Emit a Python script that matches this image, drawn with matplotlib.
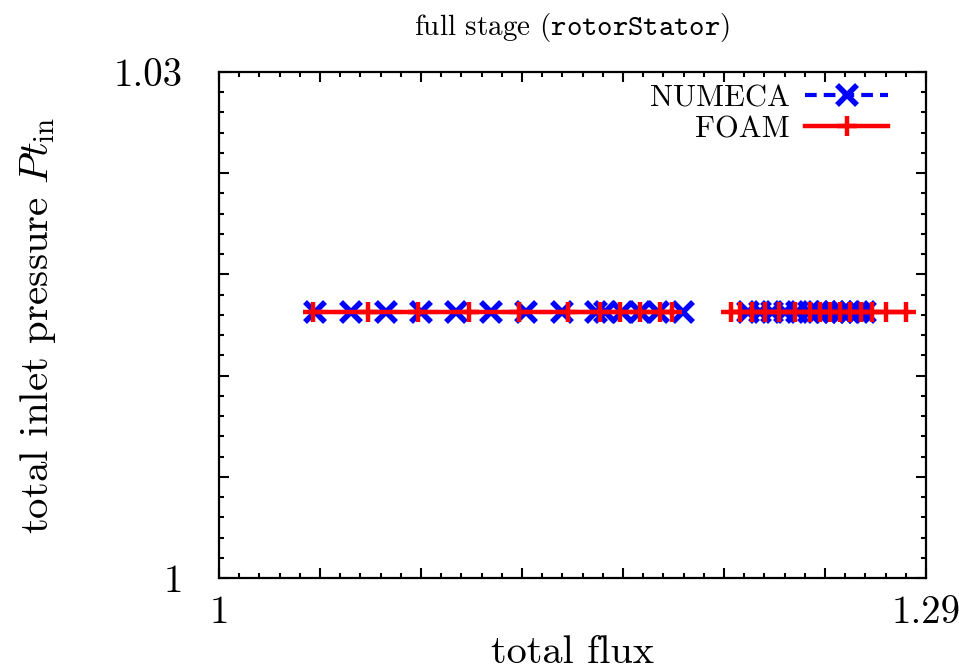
import numpy as np
import matplotlib
matplotlib.use("Agg")
import matplotlib.pyplot as plt
from matplotlib.ticker import FixedLocator, FuncFormatter

plt.rcParams['font.family'] = 'cmr10'
plt.rcParams['mathtext.fontset'] = 'cm'
plt.rcParams['axes.unicode_minus'] = False

# total flux / total inlet pressure, two runs each (gap between them)
numeca_flux_a = [1.0394, 1.0541, 1.0685, 1.0829, 1.0972, 1.1116, 1.1259,
                 1.1407, 1.1546, 1.1583, 1.1653, 1.1727, 1.1801, 1.1903]
numeca_pt_a = [1.0158, 1.0158, 1.0158, 1.0158, 1.0158, 1.0158, 1.0158,
               1.0158, 1.0158, 1.0158, 1.0158, 1.0158, 1.0158, 1.0158]
numeca_flux_b = [1.2170, 1.2219, 1.2268, 1.2322, 1.2371, 1.2420, 1.2457,
                 1.2490, 1.2523, 1.2555, 1.2588, 1.2621, 1.2650]
numeca_pt_b = [1.0158, 1.0158, 1.0158, 1.0158, 1.0158, 1.0158, 1.0158,
               1.0158, 1.0158, 1.0158, 1.0158, 1.0158, 1.0158]

foam_flux_a = [1.0386, 1.0611, 1.0816, 1.1025, 1.1231, 1.1432, 1.1563,
               1.1645, 1.1727, 1.1809, 1.1858]
foam_pt_a = [1.0158, 1.0158, 1.0158, 1.0158, 1.0158, 1.0158, 1.0158,
             1.0158, 1.0158, 1.0158, 1.0158]
foam_flux_b = [1.2100, 1.2137, 1.2186, 1.2240, 1.2297, 1.2363, 1.2424,
               1.2465, 1.2506, 1.2547, 1.2588, 1.2633, 1.2679, 1.2736, 1.2818]
foam_pt_b = [1.0158, 1.0158, 1.0158, 1.0158, 1.0158, 1.0158, 1.0158,
             1.0158, 1.0158, 1.0158, 1.0158, 1.0158, 1.0158, 1.0158, 1.0158]

x_range = (1.0, 1.29)
y_range = (1.0, 1.03)

fig = plt.figure(figsize=(9.59, 6.69), dpi=100)
ax = fig.add_axes([219/959, 91/669, 707/959, 506/669])

blue_kw = dict(color='#0000ff', lw=3, dashes=(2.8, 1.7), marker='x',
               ms=14, mew=4)
red_kw = dict(color='#ff0000', lw=3.2, marker='+', ms=15, mew=3.2)

ax.plot(numeca_flux_a, numeca_pt_a, label='NUMECA', **blue_kw)
ax.plot(numeca_flux_b, numeca_pt_b, **blue_kw)
ax.plot(foam_flux_a, foam_pt_a, label='FOAM', **red_kw)
ax.plot(foam_flux_b, foam_pt_b, **red_kw)

ax.set_xlim(*x_range)
ax.set_ylim(*y_range)

# gnuplot-like ticks: only end labels, 5 minor divisions
xmaj = np.linspace(x_range[0], x_range[1], 8)
ymaj = np.linspace(y_range[0], y_range[1], 6)
ax.xaxis.set_major_locator(FixedLocator(xmaj))
ax.yaxis.set_major_locator(FixedLocator(ymaj))
ax.xaxis.set_minor_locator(FixedLocator(np.linspace(x_range[0], x_range[1], 36)))
ax.yaxis.set_minor_locator(FixedLocator(np.linspace(y_range[0], y_range[1], 26)))


def end_labels(lo, hi):
    def fmt(v, pos):
        if abs(v - lo) < 1e-9 or abs(v - hi) < 1e-9:
            return ('%g' % v)
        return ''
    return FuncFormatter(fmt)


ax.xaxis.set_major_formatter(end_labels(*x_range))
ax.yaxis.set_major_formatter(end_labels(*y_range))

ax.tick_params(which='both', direction='in', top=True, right=True,
               width=1.5, labelsize=28)
ax.tick_params(which='major', length=7)
ax.tick_params(which='minor', length=3.5)
ax.tick_params(axis='y', pad=26)
ax.tick_params(axis='x', pad=12)
for s in ax.spines.values():
    s.set_linewidth(1.6)

ax.set_xlabel('total flux', fontsize=29, labelpad=3)
ax.set_ylabel(r'total inlet pressure $Pt_{\mathrm{in}}$', fontsize=29.5,
              labelpad=40)
fig.text(572/959, 1 - 28/669, r'full stage ($\mathtt{rotorStator}$)',
         fontsize=21, ha='center', va='center')

ax.legend(loc='upper right', bbox_to_anchor=(0.946, 0.975), frameon=False,
          markerfirst=False, fontsize=22, handlelength=2.7,
          handletextpad=0.5, labelspacing=0.12, borderpad=0,
          borderaxespad=0)

fig.savefig('out.png', dpi=100)
